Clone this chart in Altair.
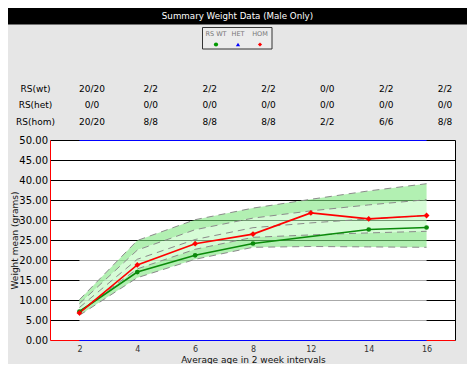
import altair as alt
import pandas as pd

# ---------------- data ----------------
weeks = ["2", "4", "6", "8", "12", "14", "16"]

wt_weeks = ["2", "4", "6", "8", "14", "16"]
wt_mean = [7.25, 17.1, 21.3, 24.25, 27.75, 28.25]
hom_mean = [6.9, 18.9, 24.2, 26.6, 31.9, 30.4, 31.25]

outer_hi = [10.2, 25.0, 30.2, 33.1, 35.3, 37.4, 39.2]
inner_hi = [9.2, 22.6, 27.7, 30.6, 32.4, 33.9, 35.2]
band_mid = [8.25, 20.3, 25.25, 28.2, 29.4, 30.4, 31.25]
inner_lo = [7.3, 17.9, 22.8, 25.8, 26.4, 26.9, 27.3]
outer_lo = [6.3, 15.7, 20.3, 23.3, 23.5, 23.4, 23.3]

grid_values = [0, 5, 10, 15, 20, 25, 30, 35, 40, 45, 50]
grid_edge_colors = ["#ff0000", "#000000", "#000000", "#000000", "#000000", "#000000",
                    "#000000", "#000000", "#000000", "#000000", "#000000"]
grid_mid_colors = ["#0000ff", "#aaaaaa", "#aaaaaa", "#aaaaaa", "#aaaaaa", "#000000",
                   "#000000", "#000000", "#000000", "#000000", "#0000ff"]

table_rows = ["RS(wt)", "RS(het)", "RS(hom)"]
rs_wt = ["20/20", "2/2", "2/2", "2/2", "0/0", "2/2", "2/2"]
rs_het = ["0/0", "0/0", "0/0", "0/0", "0/0", "0/0", "0/0"]
rs_hom = ["20/20", "8/8", "8/8", "8/8", "2/2", "6/6", "8/8"]

legend_labels = ["RS WT", "HET", "HOM"]
legend_colors = ["#009900", "#0000ff", "#ff0000"]
legend_shapes = ["circle", "triangle-up", "diamond"]

title_text = "Summary Weight Data (Male Only)"
x_title = "Average age in 2 week intervals"
y_title = "Weight mean (grams)"

FONT = "DejaVu Sans"

# ---------------- shared plot encodings ----------------
XS = alt.Scale(type="point", domain=weeks, padding=0.5)
YS = alt.Scale(domain=[0, 50], nice=False, zero=True)
XAX = alt.Axis(title=x_title, domain=False, ticks=False, tickSize=0, grid=False,
               labelFont=FONT, labelFontSize=8, labelColor="#333333", labelPadding=5,
               labelAngle=0, titleFont=FONT, titleFontSize=9, titleFontWeight="normal",
               titleColor="#111111", titleBaseline="top", titleY=15)
YAX = alt.Axis(title=y_title, domain=False, ticks=False, tickSize=0, grid=False,
               values=grid_values, format=".2f", labelFont=FONT, labelFontSize=10,
               labelColor="#000000", labelPadding=3, labelOverlap=False,
               titleFont=FONT, titleFontSize=9, titleFontWeight="normal",
               titleColor="#111111", titleX=-36.5, titleY=99.5, titleAngle=270,
               titleAlign="center", titleBaseline="middle")


def xenc(field):
    return alt.X(f"{field}:N", scale=XS, axis=XAX, title=x_title)


def yenc(field):
    return alt.Y(f"{field}:Q", scale=YS, axis=YAX, title=y_title)


one = pd.DataFrame({"a": [0]})

df_grid = pd.DataFrame({"v": grid_values, "edge": grid_edge_colors, "mid": grid_mid_colors,
                        "xs": [weeks[0]] * len(grid_values), "xe": [weeks[-1]] * len(grid_values)})

grid_full = alt.Chart(df_grid).mark_rule(strokeWidth=1).encode(
    x=alt.value(0), x2=alt.value("width"), y=yenc("v"),
    color=alt.Color("edge:N", scale=None))
grid_mid = alt.Chart(df_grid).mark_rule(strokeWidth=1).encode(
    x=xenc("xs"), x2=alt.X2("xe"), y=yenc("v"),
    color=alt.Color("mid:N", scale=None))

df_band = pd.DataFrame({"week": weeks, "ohi": outer_hi, "ihi": inner_hi, "mid": band_mid,
                        "ilo": inner_lo, "olo": outer_lo})

OUTER = "#7fe67f"
INNER = "#bbfabb"
band_top = alt.Chart(df_band).mark_area(color=OUTER, opacity=0.6).encode(
    x=xenc("week"), y=yenc("ohi"), y2=alt.Y2("ihi"))
band_in = alt.Chart(df_band).mark_area(color=INNER, opacity=0.6).encode(
    x=xenc("week"), y=yenc("ihi"), y2=alt.Y2("ilo"))
band_bot = alt.Chart(df_band).mark_area(color=OUTER, opacity=0.6).encode(
    x=xenc("week"), y=yenc("ilo"), y2=alt.Y2("olo"))

df_dash = df_band.melt(id_vars=["week"], value_vars=["ohi", "ihi", "mid", "ilo", "olo"],
                       var_name="level", value_name="v")
dashes = alt.Chart(df_dash).mark_line(color="#8a8a8a", strokeWidth=1, strokeDash=[7, 5]).encode(
    x=xenc("week"), y=yenc("v"), detail="level:N")

left_edge = alt.Chart(one).mark_rule(color="#ff0000", strokeWidth=1).encode(
    x=alt.value(0), y=alt.value(0), y2=alt.value("height"))
right_edge = alt.Chart(one).mark_rule(color="#000000", strokeWidth=1).encode(
    x=alt.value("width"), y=alt.value(0), y2=alt.value("height"))

df_wt = pd.DataFrame({"week": wt_weeks, "v": wt_mean})
df_hom = pd.DataFrame({"week": weeks, "v": hom_mean})

wt_line = alt.Chart(df_wt).mark_line(color="#0b8a0b", strokeWidth=1.6).encode(
    x=xenc("week"), y=yenc("v"))
wt_pts = alt.Chart(df_wt).mark_circle(color="#0b8a0b", size=22, opacity=1).encode(
    x=xenc("week"), y=yenc("v"))
hom_line = alt.Chart(df_hom).mark_line(color="#ff0000", strokeWidth=1.6).encode(
    x=xenc("week"), y=yenc("v"))
hom_pts = alt.Chart(df_hom).mark_point(color="#ff0000", shape="diamond", filled=True,
                                       size=34, opacity=1).encode(
    x=xenc("week"), y=yenc("v"))

plot_group = alt.layer(grid_full, grid_mid, band_top, band_in, band_bot, dashes,
                       left_edge, right_edge, wt_line, hom_line, wt_pts, hom_pts)

# ---------------- count table ----------------
df_table = pd.DataFrame({
    "row": [table_rows[0]] * 7 + [table_rows[1]] * 7 + [table_rows[2]] * 7,
    "week": weeks * 3,
    "txt": rs_wt + rs_het + rs_hom,
})
TY = alt.Y("row:N", scale=alt.Scale(type="point", domain=table_rows, range=[-52, -19], padding=0),
           axis=None)
table_cells = alt.Chart(df_table).mark_text(font=FONT, fontSize=9, color="#000000").encode(
    x=alt.X("week:N", scale=alt.Scale(type="point", domain=weeks, range=[41.5, 394.5], padding=0),
            axis=None),
    y=TY, text="txt:N")
table_labels = alt.Chart(pd.DataFrame({"row": table_rows})).mark_text(
    font=FONT, fontSize=9, color="#000000").encode(
    x=alt.value(-15), y=TY, text="row:N")
table_group = alt.layer(table_cells, table_labels)

# ---------------- legend ----------------
df_leg = pd.DataFrame({"label": legend_labels, "color": legend_colors, "shape": legend_shapes})
LX = alt.X("label:N", scale=alt.Scale(type="point", domain=legend_labels, range=[165.5, 209.5],
                                       padding=0), axis=None)
leg_box = alt.Chart(one).mark_rect(fill="#ececec", stroke="#333333", strokeWidth=1).encode(
    x=alt.value(152), x2=alt.value(221.5), y=alt.value(-113), y2=alt.value(-91.5))
leg_text = alt.Chart(df_leg).mark_text(font=FONT, fontSize=6.5, color="#777777").encode(
    x=LX, y=alt.value(-107), text="label:N")
leg_pts = alt.Chart(df_leg).mark_point(filled=True, size=18, opacity=1).encode(
    x=LX, y=alt.value(-96), color=alt.Color("color:N", scale=None),
    shape=alt.Shape("shape:N", scale=None))
legend_group = alt.layer(leg_box, leg_text, leg_pts)

# ---------------- title bar ----------------
title_bar = alt.Chart(one).mark_rect(color="#000000").encode(
    x=alt.value(-45.5), x2=alt.value(419.5), y=alt.value(-134), y2=alt.value(-116))
title_txt = alt.Chart(pd.DataFrame({"t": [title_text]})).mark_text(
    font=FONT, fontSize=8.7, color="#ffffff").encode(
    x=alt.value(187), y=alt.value(-125), text="t:N")
title_group = alt.layer(title_bar, title_txt)

chart = alt.layer(plot_group, table_group, legend_group, title_group).resolve_scale(
    x="independent", y="independent"
).properties(
    width=405, height=200,
    padding={"left": 42.5, "top": 132.5, "right": 11, "bottom": 23},
    autosize=alt.AutoSizeParams(type="none"),
).configure(background="#e6e6e6").configure_view(fill="#ffffff", stroke="transparent")

chart.save("out.html", embed_options={"renderer": "svg", "actions": False})
